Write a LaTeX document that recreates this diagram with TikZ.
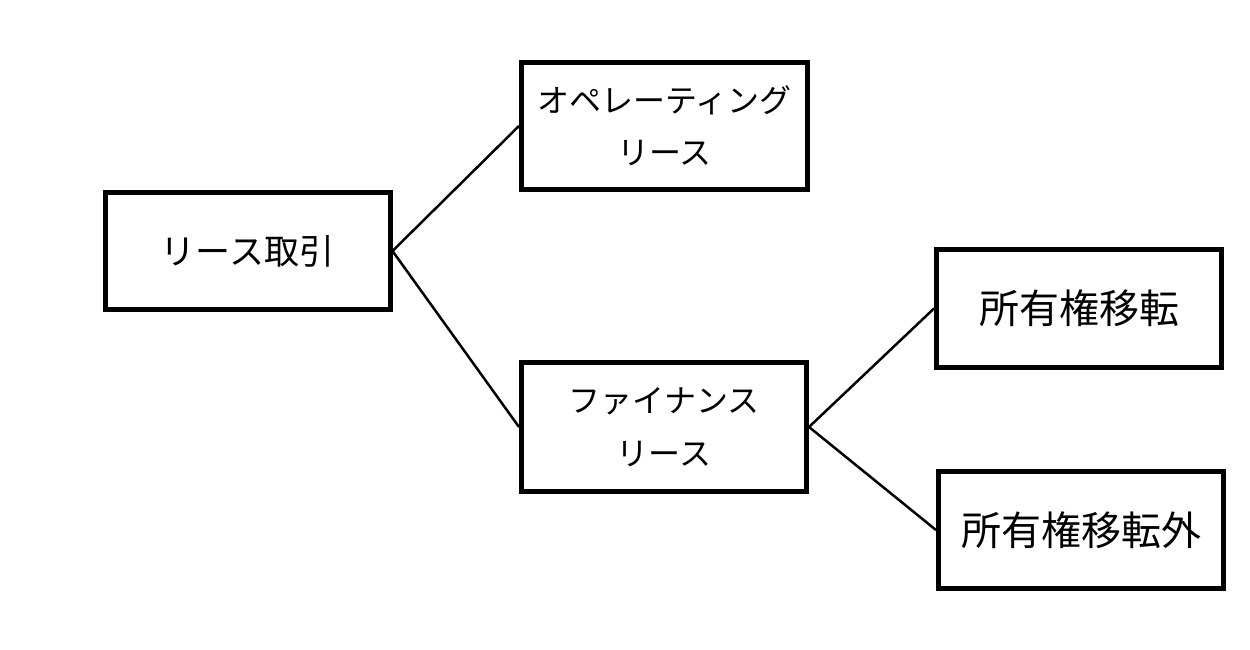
\documentclass[tikz,border=0pt]{standalone}
\usepackage{fontspec}
\setmainfont{Noto Sans CJK JP}
\begin{document}
\begin{tikzpicture}[x=1pt,y=-1pt,
  box/.style={draw=black,line width=5pt,minimum width=285pt,inner sep=0pt,align=center,fill=white},
  conn/.style={draw=black,line width=2.5pt}]
\useasboundingbox[fill=white] (0,0) rectangle (1250,650);
\node[box,minimum height=117pt,font=\fontsize{35}{40}\selectfont] (a) at (247.5,251) {リース取引};
\node[box,minimum width=286pt,minimum height=127pt,font=\fontsize{32}{52}\selectfont] (b) at (664.5,126) {オペレーティング\\リース};
\node[box,minimum height=129pt,font=\fontsize{32}{53}\selectfont] (c) at (664,427) {ファイナンス\\リース};
\node[box,minimum height=118pt,font=\fontsize{40}{46}\selectfont] (d) at (1079,308.5) {所有権移転};
\node[box,minimum height=117pt,font=\fontsize{40}{46}\selectfont] (e) at (1081,530) {所有権移転外};
\draw[conn] (a.east) -- (b.west);
\draw[conn] (a.east) -- (c.west);
\draw[conn] (c.east) -- (d.west);
\draw[conn] (c.east) -- (e.west);
\end{tikzpicture}
\end{document}
